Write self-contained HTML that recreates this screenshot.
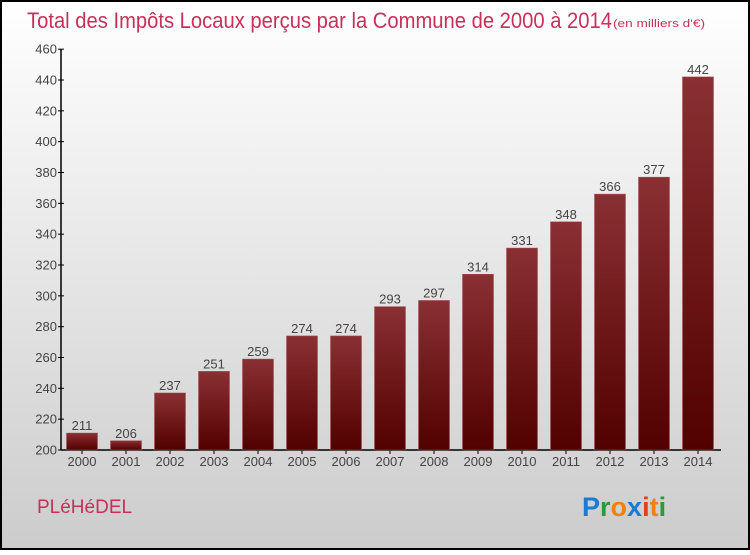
<!DOCTYPE html>
<html><head><meta charset="utf-8"><style>
body{margin:0;width:750px;height:550px;overflow:hidden}
svg text{font-family:"Liberation Sans",sans-serif}
</style></head><body>
<svg width="750" height="550" xmlns="http://www.w3.org/2000/svg">
<defs>
<linearGradient id="bg" x1="0" y1="0" x2="0" y2="1"><stop offset="0" stop-color="#ffffff"/><stop offset="1" stop-color="#cccccc"/></linearGradient>
<linearGradient id="bar" x1="0" y1="0" x2="0" y2="1"><stop offset="0" stop-color="#8a3034"/><stop offset="1" stop-color="#520000"/></linearGradient>
</defs>
<rect x="1" y="1" width="748" height="548" fill="url(#bg)" stroke="#000" stroke-width="2"/>
<text x="27" y="28" font-size="22" fill="#c8305a" textLength="585" lengthAdjust="spacingAndGlyphs">Total des Impôts Locaux perçus par la Commune de 2000 à 2014</text>
<text x="613" y="27" font-size="11" fill="#c8305a" textLength="92" lengthAdjust="spacingAndGlyphs">(en milliers d'€)</text>
<g id="axes"></g>
<g id="bars"></g>
<text x="37" y="513" font-size="19" fill="#c8305a">PLéHéDEL</text>
<g font-size="27" font-weight="bold">
<text x="582" y="516"><tspan fill="#1a7ad4">P</tspan><tspan fill="#2a9a3a">r</tspan><tspan fill="#f08010">o</tspan><tspan fill="#1a7ad4">x</tspan><tspan fill="#e04020">i</tspan><tspan fill="#f08010">t</tspan><tspan fill="#2a9a3a">i</tspan></text>
</g>
</svg>
<script>
const years=['2000','2001','2002','2003','2004','2005','2006','2007','2008','2009','2010','2011','2012','2013','2014'];
const values=[211,206,237,251,259,274,274,293,297,314,331,348,366,377,442];
const yTicks=[200,220,240,260,280,300,320,340,360,380,400,420,440,460];
const NS='http://www.w3.org/2000/svg';
const y=v=>450-(v-200)*370/240;
const x=i=>82+i*44;
function mk(t,a,p){const e=document.createElementNS(NS,t);for(const k in a)e.setAttribute(k,a[k]);p.appendChild(e);return e;}
const ax=document.getElementById('axes'),bg=document.getElementById('bars');
let l=mk('line',{x1:61,y1:y(460),x2:61,y2:450,stroke:'#000','stroke-width':1.5},ax);

l=mk('line',{x1:61,y1:450,x2:721,y2:450,stroke:'#000','stroke-width':1.5},ax);

yTicks.forEach(t=>{
  const tk=mk('line',{x1:58,x2:64,y1:y(t),y2:y(t),stroke:'#000'},ax);
  
  const tx=mk('text',{x:57,y:y(t)+4.5,'text-anchor':'end','font-size':13,fill:'#444'},ax);
  tx.textContent=t;
  
});
years.forEach((yr,i)=>{
  const r=mk('rect',{x:x(i)-15.5,y:y(values[i]),width:31,height:450-y(values[i]),fill:'url(#bar)',stroke:'#a05058','stroke-width':0.5},bg);
  
  const v=mk('text',{x:x(i),y:y(values[i])-3,'text-anchor':'middle','font-size':13,fill:'#444'},bg);
  v.textContent=values[i];
  
  const tk=mk('line',{x1:x(i),x2:x(i),y1:450,y2:454,stroke:'#000'},ax);
  
  const t=mk('text',{x:x(i),y:466,'text-anchor':'middle','font-size':13,fill:'#444'},ax);
  t.textContent=yr;
  
});
</script>
</body></html>
